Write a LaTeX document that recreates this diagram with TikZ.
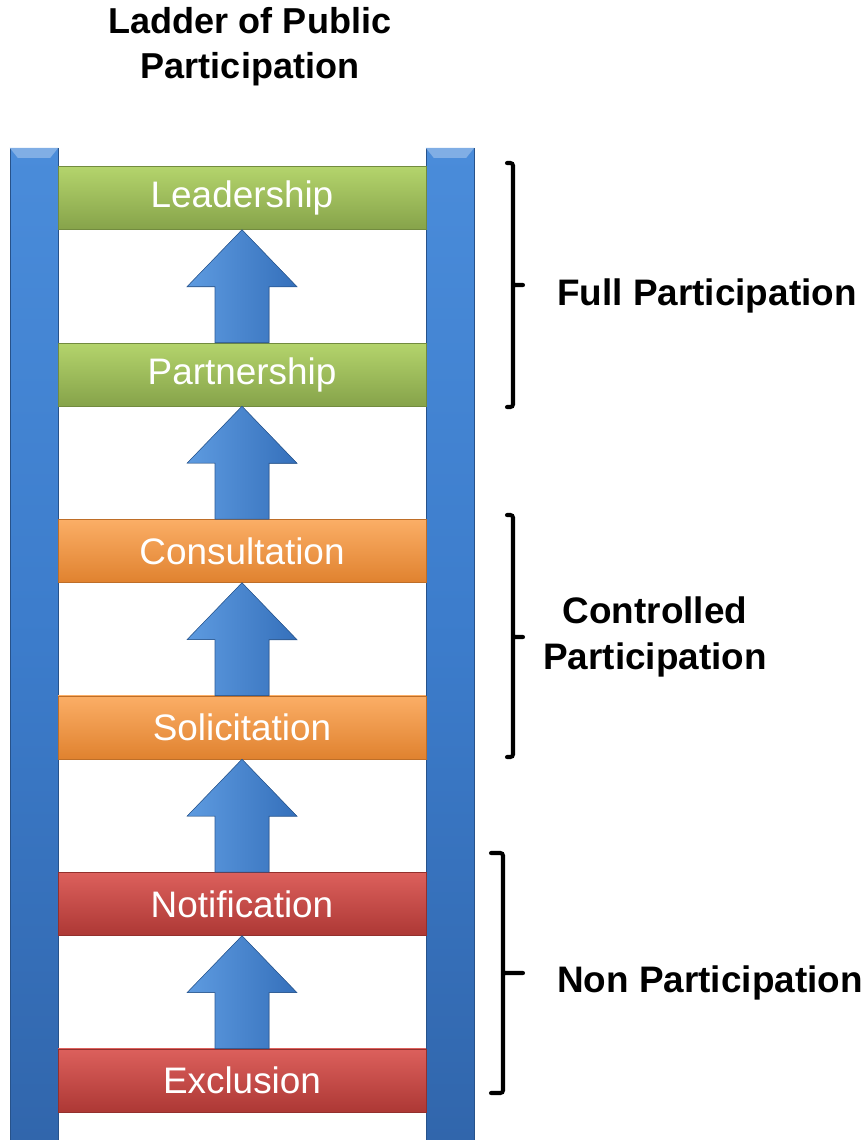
\documentclass[tikz,border=0pt]{standalone}
\usepackage{fontspec}
\setmainfont{Liberation Sans}
\usepackage{xcolor}
\usepackage{tikz}
\usetikzlibrary{positioning, calc}

\definecolor{railmid}{HTML}{3C7CCB}
\definecolor{raillt}{HTML}{4A8CDA}
\definecolor{raildk}{HTML}{3166AC}
\definecolor{arrowlt}{HTML}{5E9BE0}
\definecolor{arrowmid}{HTML}{3D7DCB}
\definecolor{arrowdk}{HTML}{3570BB}
\definecolor{greentop}{HTML}{B4D46C}
\definecolor{greenmid}{HTML}{9DBD5A}
\definecolor{greenbot}{HTML}{86A34A}
\definecolor{orangetop}{HTML}{FBAE66}
\definecolor{orangemid}{HTML}{F79646}
\definecolor{orangebot}{HTML}{E0822F}
\definecolor{redtop}{HTML}{DC605C}
\definecolor{redmid}{HTML}{C94542}
\definecolor{redbot}{HTML}{AD3835}

\begin{document}
\begin{tikzpicture}[
    x=0.02cm, y=0.02cm,
    rail/.style={rectangle, draw=raildk!80!black, line width=0.3pt, top color=raillt, bottom color=raildk, middle color=railmid, minimum width=0.96cm, minimum height=19.84cm, inner sep=0pt},
    rung/.style={rectangle, draw=#1bot!85!black, line width=0.3pt, top color=#1top, middle color=#1mid, bottom color=#1bot, minimum width=7.36cm, minimum height=1.26cm, inner sep=0pt, text=white, font=\fontsize{21}{25}\selectfont},
    uparrow/.style={draw=arrowdk!80!black, line width=0.3pt, left color=arrowlt, middle color=arrowmid, right color=arrowdk},
    group/.style={font=\fontsize{21}{26}\selectfont\bfseries, align=center, inner sep=0pt},
    bracket/.style={line width=2.3pt, rounded corners=1.5pt, line cap=round},
    node distance=2.26cm
]
\useasboundingbox (0,0) rectangle (867,-1140);

% Title
\node[group, font=\fontsize{20.5}{25.5}\selectfont\bfseries] (title) at (250,-47) {Ladder of Public\\Participation};

% Rails
\node[rail] (lrail) at (34,-644) {};
\node[rail] (rrail) at (450,-644) {};
\fill[raillt!70!white] (lrail.north west) -- (lrail.north east) -- ++(-8,-10) -- ($(lrail.north west)+(8,-10)$) -- cycle;
\fill[raillt!70!white] (rrail.north west) -- (rrail.north east) -- ++(-8,-10) -- ($(rrail.north west)+(8,-10)$) -- cycle;

% Rungs
\node[rung=green] (lead) at (242,-198) {Leadership};
\node[rung=green, below=of lead] (part) {Partnership};
\node[rung=orange, below=of part] (cons) {Consultation};
\node[rung=orange, below=of cons] (soli) {Solicitation};
\node[rung=red, below=of soli] (noti) {Notification};
\node[rung=red, below=of noti] (excl) {Exclusion};

% Arrows up the ladder
\foreach \a/\b in {part/lead, cons/part, soli/cons, noti/soli, excl/noti}
  \filldraw[uparrow] (\b.south) -- ++(55,-57) -- ++(-28,0) |- (\a.north) -- ++(-27,0) -- ++(0,56) -- ++(-28,0) -- cycle;

% Brackets
\draw[bracket] (507,-163) -| (513,-407) -- (507,-407) (513,-285) -- (523,-285);
\draw[bracket] (507,-515) -| (513,-757) -- (507,-757) (513,-637) -- (523,-637);
\draw[bracket] (491,-853) -| (503,-1093) -- (491,-1093) (503,-973) -- (523,-973);

% Group labels
\node[group] (full) at (707,-296) {Full Participation};
\node[group] (ctrl) at (655,-637) {Controlled\\Participation};
\node[group] (nonp) at (710,-983) {Non Participation};

\end{tikzpicture}
\end{document}
